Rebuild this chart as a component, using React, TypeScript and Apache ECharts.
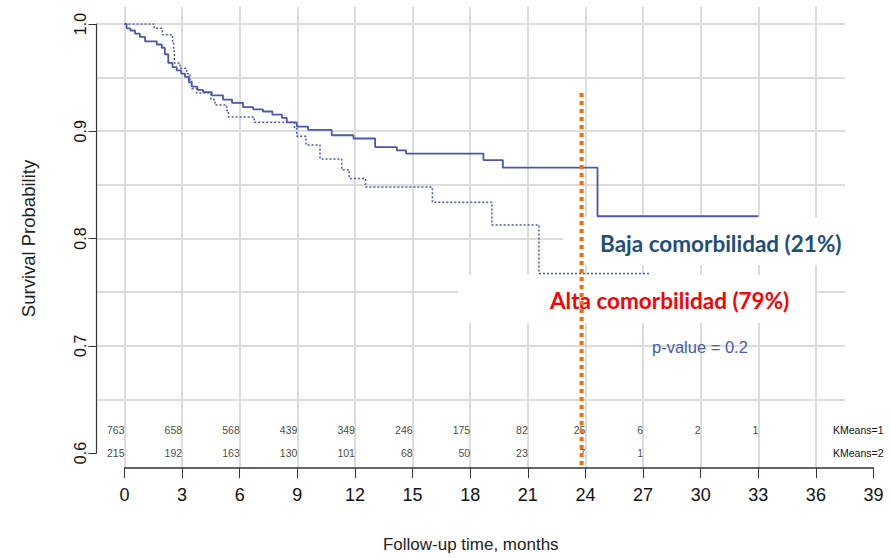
import React, { useEffect, useRef } from "react";
import * as echarts from "echarts";

// Kaplan-Meier steps, group KMeans=1 (solid)
const KM1_TIMES = [0, 0.11, 0.3, 0.55, 0.8, 1.07, 1.68, 1.94, 2.1, 2.28, 2.5, 2.72, 2.95, 3.15, 3.35, 3.5, 3.8, 4.09, 4.54, 5.13, 5.6, 6.17, 6.7, 7.21, 7.7, 8.2, 8.45, 8.97, 9.56, 10.79, 11.92, 13.05, 14.18, 14.66, 18.69, 19.7, 24.63, 33];
const KM1_SURV = [1, 0.996, 0.994, 0.991, 0.988, 0.984, 0.981, 0.978, 0.972, 0.964, 0.96, 0.957, 0.954, 0.951, 0.946, 0.942, 0.939, 0.937, 0.934, 0.93, 0.927, 0.923, 0.921, 0.919, 0.916, 0.913, 0.909, 0.905, 0.902, 0.897, 0.894, 0.886, 0.883, 0.88, 0.874, 0.867, 0.822, 0.822];

// Kaplan-Meier steps, group KMeans=2 (dotted)
const KM2_TIMES = [0, 1.55, 1.97, 2.5, 2.56, 2.6, 2.89, 3.24, 3.41, 3.5, 3.76, 4.5, 4.71, 5.32, 5.41, 6.76, 8.85, 8.97, 9.45, 10.18, 11.31, 11.7, 12.55, 16.03, 19.13, 21.58, 27.37];
const KM2_SURV = [1, 0.996, 0.99, 0.984, 0.975, 0.964, 0.959, 0.954, 0.948, 0.94, 0.936, 0.93, 0.925, 0.92, 0.914, 0.909, 0.903, 0.896, 0.888, 0.875, 0.865, 0.857, 0.849, 0.835, 0.814, 0.769, 0.769];

// Numbers at risk
const RISK_TIMES = [0, 3, 6, 9, 12, 15, 18, 21, 24, 27, 30, 33];
const RISK_KM1 = [763, 658, 568, 439, 349, 246, 175, 82, 25, 6, 2, 1];
const RISK_KM2 = [215, 192, 163, 130, 101, 68, 50, 23, 7, 1];
const GROUPS = ["KMeans=2", "KMeans=1"];

// Cut-off marker (months) and its vertical extent (survival units)
const CUTOFF_MONTH = [23.8, 23.8];
const CUTOFF_SURV = [0.936, 0.5917];

const X_MIN = 0;
const X_MAX = 39;
const X_STEP = 3;
const Y_MIN = 0.6;
const Y_MAX = 1.0;

const CURVE_COLOR = "#4a58ad";
const GRID_COLOR = "#dcdcdc";
const SANS = "'Liberation Sans', Arial, sans-serif";
const BOLD_FONT = "Lato, 'Open Sans', sans-serif";

export default function App() {
  const ref = useRef<HTMLDivElement>(null);

  useEffect(() => {
    if (!ref.current) return;
    const chart = echarts.init(ref.current, undefined, { renderer: "svg" });

    const km1 = KM1_TIMES.map((t, i) => [t, KM1_SURV[i]]);
    const km2 = KM2_TIMES.map((t, i) => [t, KM2_SURV[i]]);
    const risk1 = RISK_KM1.map((n, i) => [RISK_TIMES[i], 1, n]);
    const risk2 = RISK_KM2.map((n, i) => [RISK_TIMES[i], 0, n]);
    const cutoff = CUTOFF_MONTH.map((m, i) => [m, CUTOFF_SURV[i]]);

    const riskLabel = {
      show: true,
      position: "left",
      distance: 0,
      fontSize: 10.5,
      fontFamily: SANS,
      color: "#111",
      formatter: (p: any) => String(p.value[2]),
    };

    const option: any = {
      animation: false,
      backgroundColor: "#ffffff",
      grid: [
        { left: 124.5, right: 17.5, top: 24, bottom: 102 },
        { left: 96.5, right: 46, top: 24, bottom: 102 },
        { left: 124.5, right: 17.5, top: 7, bottom: 90 },
        { left: 124.5, right: 17.5, top: 419, bottom: 94 },
      ],
      xAxis: [
        { gridIndex: 0, type: "value", min: X_MIN, max: X_MAX, show: false },
        {
          gridIndex: 1,
          type: "value",
          min: 0,
          max: 1,
          axisLine: { show: false },
          axisTick: { show: false },
          axisLabel: { show: false },
          splitLine: { show: false },
          name: "Follow-up time, months",
          nameLocation: "middle",
          nameGap: 83,
          nameTextStyle: { fontSize: 17, color: "#222", fontFamily: SANS },
        },
        {
          gridIndex: 2,
          type: "value",
          min: X_MIN,
          max: X_MAX,
          interval: X_STEP,
          axisLine: { show: true, lineStyle: { color: "#333", width: 1.5 } },
          axisTick: { show: true, inside: false, length: 10, lineStyle: { color: "#333", width: 1 } },
          axisLabel: { fontSize: 18, fontFamily: SANS, color: "#111", margin: 18 },
          splitLine: { show: true, showMaxLine: false, lineStyle: { color: GRID_COLOR, width: 2 } },
        },
        { gridIndex: 3, type: "value", min: X_MIN, max: X_MAX, show: false },
      ],
      yAxis: [
        { gridIndex: 0, type: "value", min: Y_MIN, max: Y_MAX, show: false },
        {
          gridIndex: 1,
          type: "value",
          position: "left",
          min: Y_MIN,
          max: Y_MAX,
          interval: 0.05,
          axisLine: { show: false },
          axisTick: { show: false },
          axisLabel: { show: false },
          splitLine: { show: true, showMinLine: false, lineStyle: { color: GRID_COLOR, width: 2 } },
        },
        {
          gridIndex: 1,
          type: "value",
          position: "left",
          min: Y_MIN,
          max: Y_MAX,
          interval: 0.1,
          axisLine: { show: true, lineStyle: { color: "#333", width: 1.2 } },
          axisTick: { show: true, inside: false, length: 8, lineStyle: { color: "#333" } },
          axisLabel: {
            rotate: 90,
            fontSize: 16,
            fontFamily: SANS,
            color: "#111",
            margin: 8,
            formatter: (v: number) => v.toFixed(1),
          },
          splitLine: { show: false },
          name: "Survival Probability",
          nameLocation: "middle",
          nameRotate: 90,
          nameGap: 59,
          nameTextStyle: { fontSize: 18.5, color: "#222", fontFamily: SANS },
        },
        { gridIndex: 2, type: "value", min: 0, max: 1, show: false },
        {
          gridIndex: 3,
          type: "category",
          data: GROUPS,
          position: "right",
          axisLine: { show: false },
          axisTick: { show: false },
          splitLine: { show: false },
          axisLabel: { margin: -40.5, fontSize: 10.5, fontFamily: SANS, color: "#111" },
        },
      ],
      graphic: [
        { type: "rect", z: 1, shape: { x: 563, y: 217, width: 284, height: 48 }, style: { fill: "#ffffff" } },
        { type: "rect", z: 1, shape: { x: 458, y: 275, width: 357, height: 48 }, style: { fill: "#ffffff" } },
        {
          type: "text",
          z: 1,
          x: 600,
          y: 243,
          style: {
            text: "Baja comorbilidad (21%)",
            fill: "#1f4e79",
            fontSize: 22.5,
            fontWeight: "bold",
            fontFamily: BOLD_FONT,
            verticalAlign: "middle",
          },
        },
        {
          type: "text",
          z: 1,
          x: 550,
          y: 300,
          style: {
            text: "Alta comorbilidad (79%)",
            fill: "#ff0000",
            fontSize: 22.5,
            fontWeight: "bold",
            fontFamily: BOLD_FONT,
            verticalAlign: "middle",
          },
        },
        {
          type: "text",
          z: 1,
          x: 652,
          y: 347,
          style: {
            text: "p-value = 0.2",
            fill: "#4a58b0",
            fontSize: 16.5,
            fontFamily: SANS,
            verticalAlign: "middle",
          },
        },
      ],
      series: [
        {
          name: "KMeans=2",
          type: "line",
          xAxisIndex: 0,
          yAxisIndex: 0,
          step: "end",
          data: km2,
          showSymbol: false,
          z: 3,
          lineStyle: { color: CURVE_COLOR, width: 1.5, type: [2, 2] },
        },
        {
          name: "KMeans=1",
          type: "line",
          xAxisIndex: 0,
          yAxisIndex: 0,
          step: "end",
          data: km1,
          showSymbol: false,
          z: 3,
          lineStyle: { color: CURVE_COLOR, width: 1.8 },
        },
        {
          name: "cutoff",
          type: "line",
          xAxisIndex: 0,
          yAxisIndex: 0,
          data: cutoff,
          clip: false,
          showSymbol: false,
          silent: true,
          z: 5,
          lineStyle: { color: "#ff6a00", width: 4, type: [4, 4] },
        },
        {
          name: "risk1",
          type: "scatter",
          xAxisIndex: 3,
          yAxisIndex: 4,
          data: risk1,
          symbolSize: 0,
          silent: true,
          label: riskLabel,
        },
        {
          name: "risk2",
          type: "scatter",
          xAxisIndex: 3,
          yAxisIndex: 4,
          data: risk2,
          symbolSize: 0,
          silent: true,
          label: riskLabel,
        },
      ],
    };

    chart.setOption(option);
    return () => chart.dispose();
  }, []);

  return <div ref={ref} style={{ width: 891, height: 558, position: "absolute", left: 0, top: 0 }} />;
}
